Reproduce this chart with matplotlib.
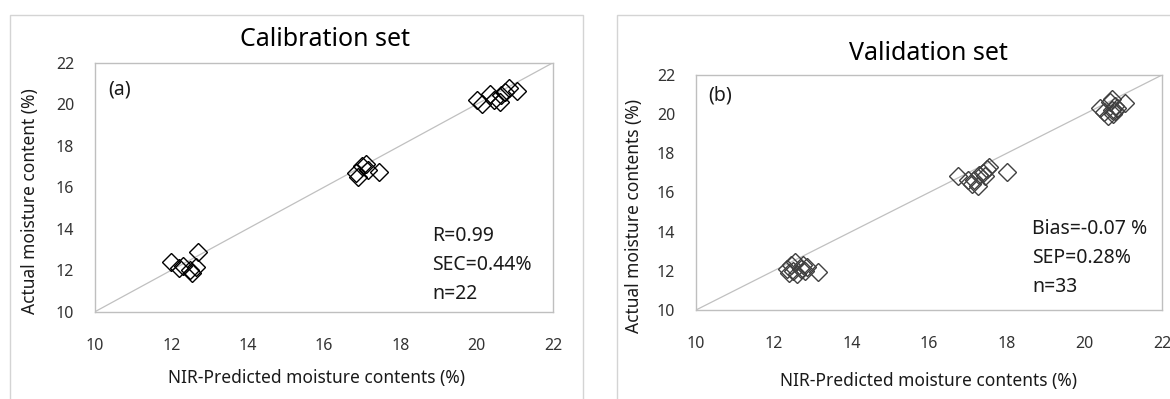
import matplotlib
matplotlib.use("Agg")
import matplotlib.pyplot as plt
from matplotlib.patches import Rectangle

plt.rcParams['font.family'] = ['Noto Sans', 'DejaVu Sans']

# calibration set (n=22): NIR-predicted vs actual moisture (%)
cal_pred = [12.0, 12.2, 12.3, 12.5, 12.55, 12.65, 12.7,
            16.85, 16.9, 17.0, 17.1, 17.15, 17.45,
            20.0, 20.15, 20.35, 20.45, 20.6, 20.65, 20.75, 20.85, 21.05]
cal_actual = [12.4, 12.1, 12.2, 12.0, 11.85, 12.15, 12.9,
              16.7, 16.5, 17.0, 17.1, 16.85, 16.75,
              20.2, 20.0, 20.5, 20.2, 20.1, 20.45, 20.6, 20.8, 20.65]

# validation set (n=33)
val_pred = [12.35, 12.4, 12.45, 12.5, 12.55, 12.6, 12.7, 12.75, 12.8, 12.85, 13.15,
            16.75, 17.0, 17.1, 17.15, 17.25, 17.3, 17.4, 17.45, 17.5, 17.55, 18.0,
            20.4, 20.5, 20.6, 20.65, 20.7, 20.7, 20.75, 20.8, 20.8, 20.85, 21.05]
val_actual = [12.1, 11.9, 12.3, 12.0, 12.45, 11.85, 12.1, 12.3, 12.0, 12.2, 11.95,
              16.85, 16.65, 16.45, 16.65, 16.35, 16.9, 17.0, 16.85, 17.2, 17.3, 17.05,
              20.3, 20.1, 19.9, 20.6, 20.8, 20.2, 20.0, 20.4, 20.15, 20.3, 20.55]

ticks = [10, 12, 14, 16, 18, 20, 22]

W, H = 1170, 399
fig = plt.figure(figsize=(W / 100, H / 100), dpi=100)
TXT = '#1a1a1a'


def px(x, y):
    # pixel position (from top-left) -> figure fraction
    return x / W, 1 - y / H


def panel(rect, pred, actual, mcolor):
    ax = fig.add_axes(rect)
    ax.plot([10, 22], [10, 22], color='#c0c0c0', lw=0.9, zorder=1)
    ax.plot(pred, actual, linestyle='none', marker='D', markersize=9.5,
            markerfacecolor='none', markeredgecolor=mcolor, markeredgewidth=1.0,
            zorder=2)
    ax.set_xlim(10, 22)
    ax.set_ylim(10, 22)
    ax.set_xticks(ticks)
    ax.set_yticks(ticks)
    ax.tick_params(length=0, labelsize=11.5, colors='#333333')
    ax.tick_params(axis='x', pad=19)
    ax.tick_params(axis='y', pad=15)
    for s in ax.spines.values():
        s.set_color('#bfbfbf')
        s.set_linewidth(1.0)
    return ax


# outer chart frames
for x0, x1 in [(10, 583), (617, 1200)]:
    fig.patches.append(Rectangle((x0 / W, -0.1), (x1 - x0) / W, 1.1 - 15 / H,
                                 transform=fig.transFigure, fill=False,
                                 edgecolor='#d4d4d4', lw=1.0, clip_on=False))

ax1 = panel([95 / W, 1 - 311.7 / H, 458 / W, 249 / H], cal_pred, cal_actual, '#000000')
ax2 = panel([696 / W, 1 - 310 / H, 466 / W, 235 / H], val_pred, val_actual, '#404040')

# titles
fig.text(*px(325, 40), 'Calibration set', fontsize=18, ha='center', va='center')
fig.text(*px(928, 53), 'Validation set', fontsize=18, ha='center', va='center')

# axis titles
lab = dict(fontsize=12.5, fontweight='semibold', color=TXT, ha='center', va='center')
fig.text(*px(316, 378), 'NIR-Predicted moisture contents (%)', **lab)
fig.text(*px(928, 381), 'NIR-Predicted moisture contents (%)', **lab)
fig.text(*px(30, 201), 'Actual moisture content (%)', rotation=90, **lab)
fig.text(*px(634, 216), 'Actual moisture contents (%)', rotation=90, **lab)

# panel tags and statistics
fig.text(*px(108, 90), '(a)', fontsize=14, ha='left', va='center', color=TXT)
fig.text(*px(708, 96), '(b)', fontsize=14, ha='left', va='center', color=TXT)
for i, s in enumerate(['R=0.99', 'SEC=0.44%', 'n=22']):
    fig.text(*px(432, 236 + 29 * i), s, fontsize=14, ha='left', va='center', color=TXT)
for i, s in enumerate(['Bias=-0.07 %', 'SEP=0.28%', 'n=33']):
    fig.text(*px(1032, 229 + 29 * i), s, fontsize=14, ha='left', va='center', color=TXT)

fig.savefig('out.png', dpi=100, facecolor='white')
